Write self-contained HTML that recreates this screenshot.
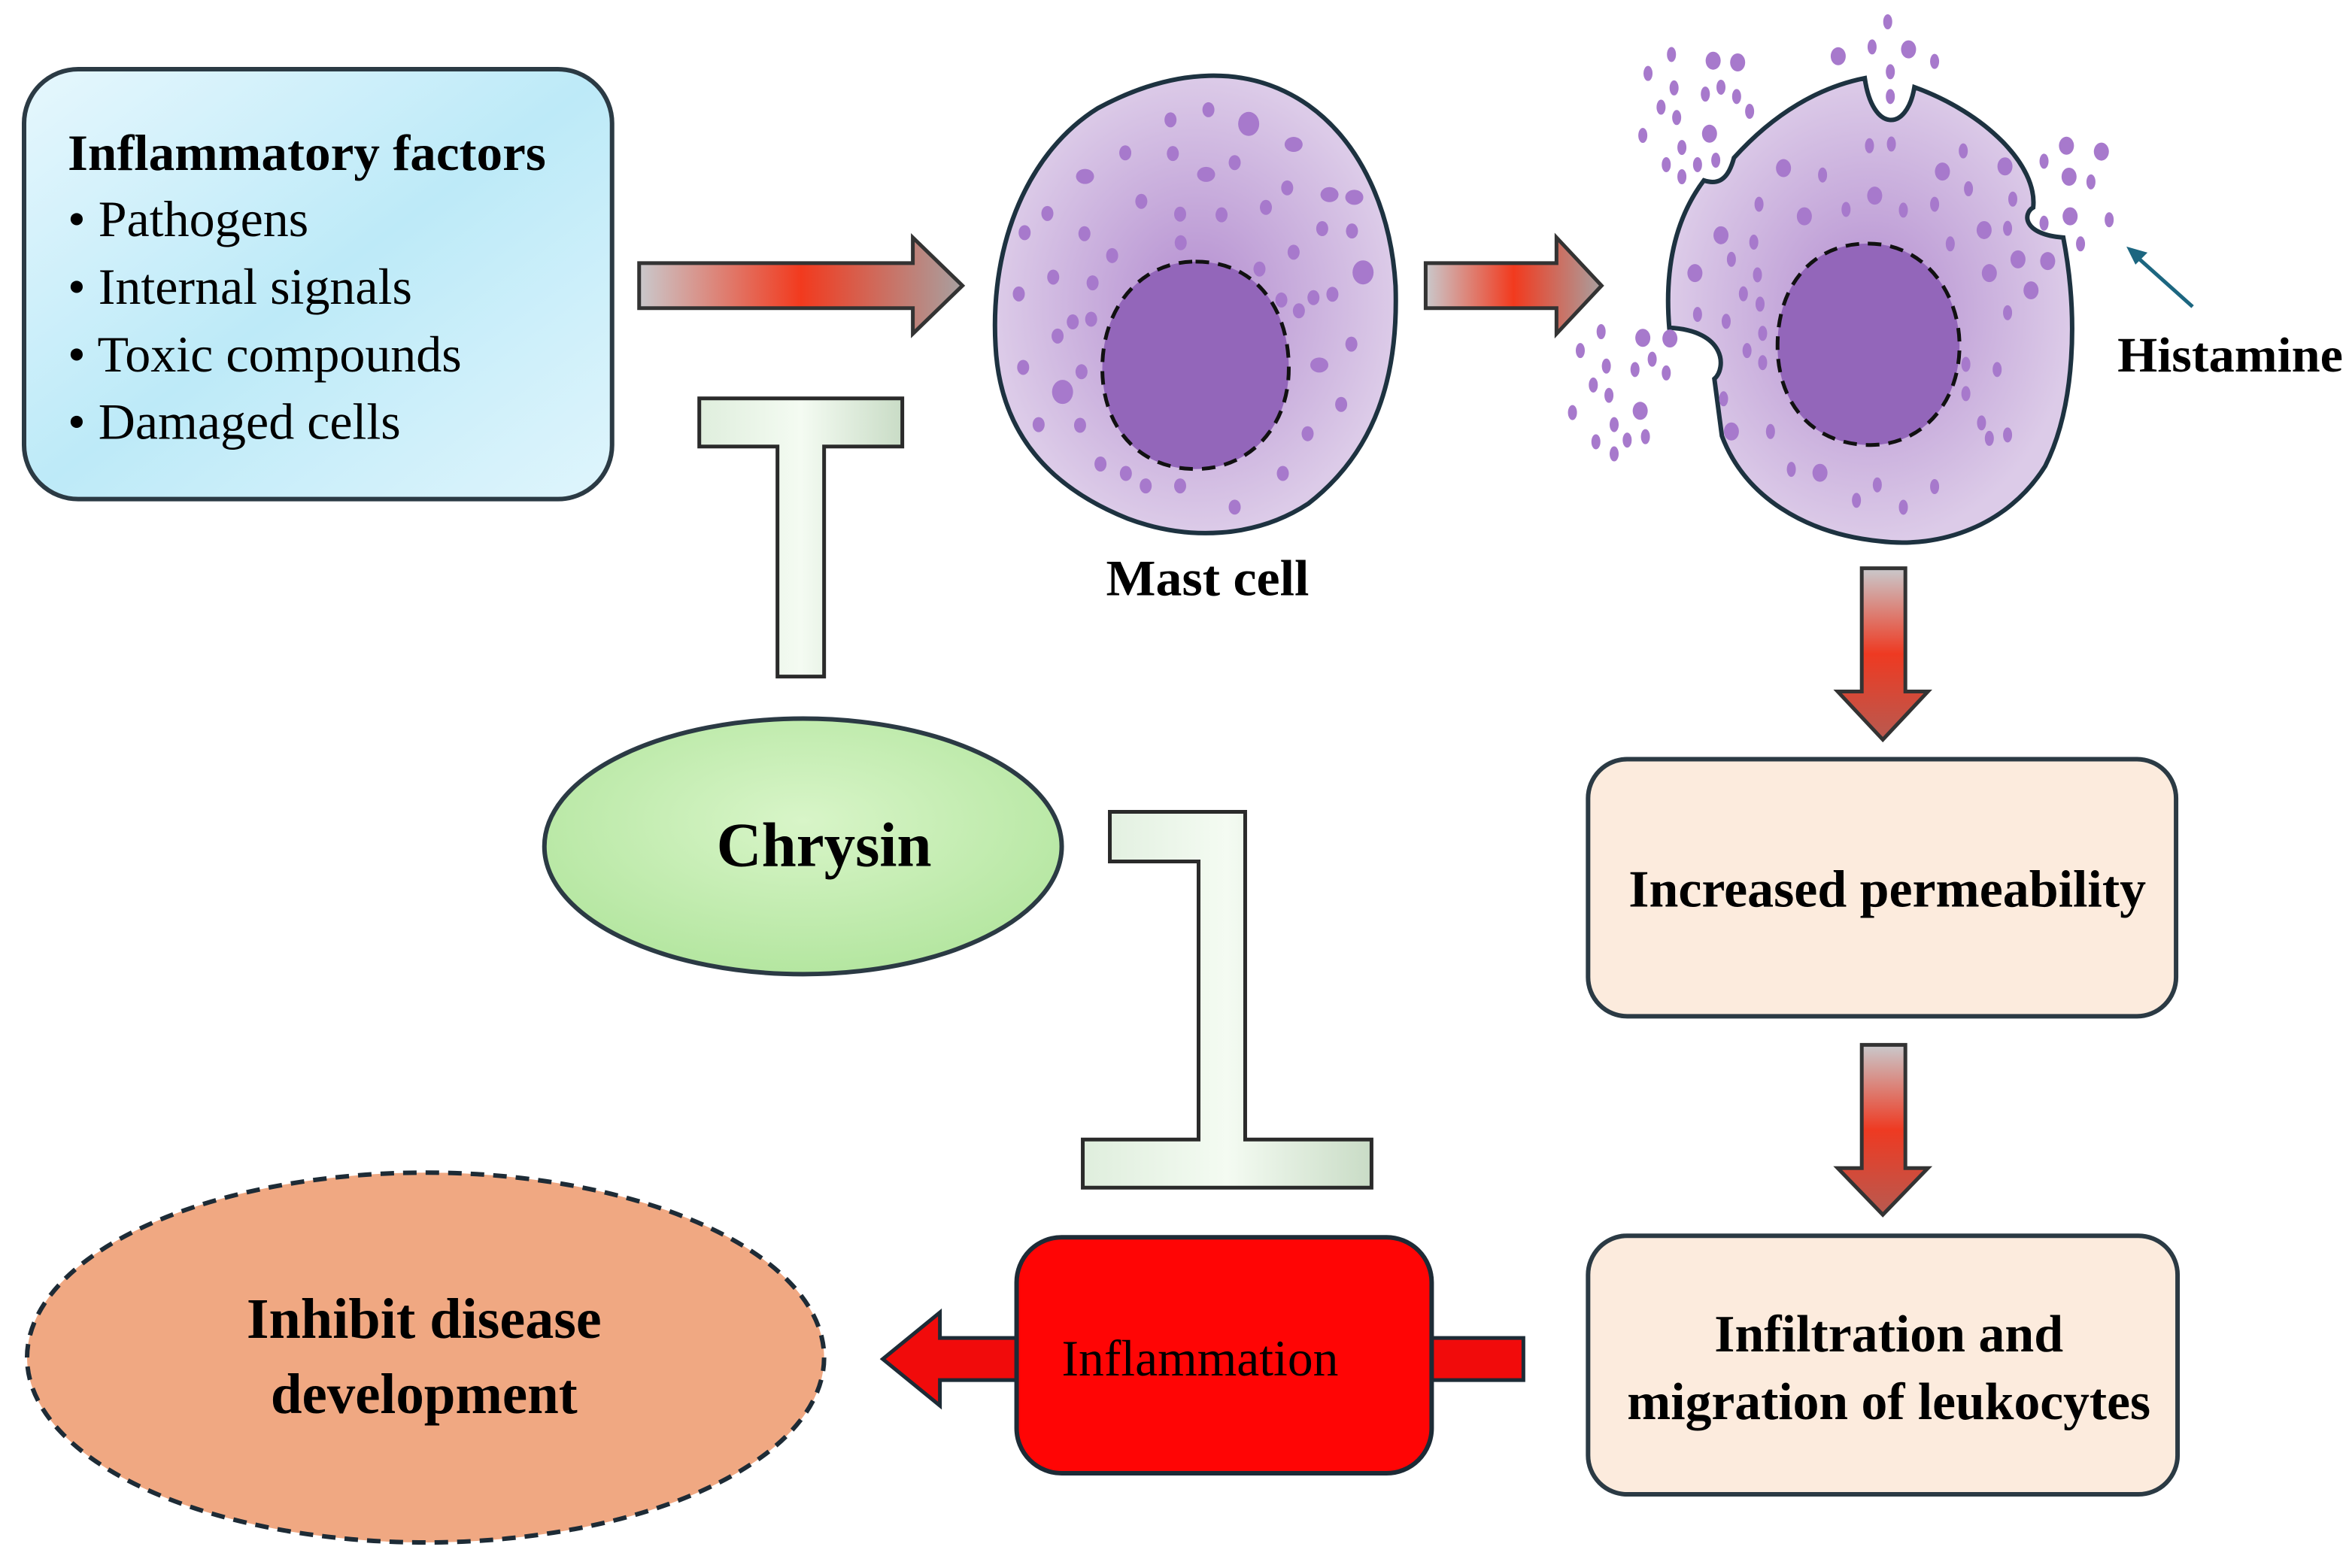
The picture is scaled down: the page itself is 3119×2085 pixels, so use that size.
<!DOCTYPE html>
<html><head><meta charset="utf-8"><style>
html,body{margin:0;padding:0;background:#fff}
svg{display:block}
</style></head><body>
<svg id="s" width="3119" height="2085" viewBox="0 0 1560 1043" preserveAspectRatio="none" xmlns="http://www.w3.org/2000/svg" font-family="Liberation Serif, serif">
<defs>
<linearGradient id="blue" x1="0" y1="0" x2="1" y2="1"><stop offset="0" stop-color="#e6f7fd"/><stop offset="0.5" stop-color="#bdeaf8"/><stop offset="1" stop-color="#dff5fc"/></linearGradient>
<linearGradient id="harr" x1="0" y1="0" x2="1" y2="0"><stop offset="0" stop-color="#c9c9cc"/><stop offset="0.5" stop-color="#f23a1e"/><stop offset="1" stop-color="#a8a0a0"/></linearGradient>
<linearGradient id="varr" x1="0" y1="0" x2="0" y2="1"><stop offset="0" stop-color="#c9c9cc"/><stop offset="0.5" stop-color="#ee3a22"/><stop offset="1" stop-color="#b85a50"/></linearGradient>
<radialGradient id="cell" cx="0.5" cy="0.5" r="0.5"><stop offset="0" stop-color="#b48ed0"/><stop offset="1" stop-color="#dccbe8"/></radialGradient>
<linearGradient id="grn" x1="0" y1="0" x2="1" y2="0"><stop offset="0" stop-color="#dfeedd"/><stop offset="0.5" stop-color="#f4fbf2"/><stop offset="1" stop-color="#c9dcc6"/></linearGradient>
<radialGradient id="chry" cx="0.5" cy="0.4" r="0.6"><stop offset="0" stop-color="#d8f5c8"/><stop offset="1" stop-color="#b4e6a0"/></radialGradient>
</defs>

<rect x="16" y="46" width="391" height="286" rx="36" fill="url(#blue)" stroke="#2b3a44" stroke-width="3"/>
<g font-family="Liberation Serif, serif" font-size="34">
<text x="45" y="113" font-weight="bold" textLength="318" lengthAdjust="spacingAndGlyphs">Inflammatory factors</text>
<text x="45" y="157">• Pathogens</text>
<text x="45" y="202">• Internal signals</text>
<text x="45" y="247">• Toxic compounds</text>
<text x="45" y="292">• Damaged cells</text>
</g>

<path d="M425,175 H607 V158 L640,190 L607,222 V205 H425 Z" fill="url(#harr)" stroke="#333" stroke-width="2.5"/>
<path d="M948,175 H1035 V158 L1065,190 L1035,222 V205 H948 Z" fill="url(#harr)" stroke="#333" stroke-width="2.5"/>

<path d="M730,72 C780,45 830,42 870,70 C905,95 925,140 928,190 C930,250 915,300 870,335 C835,358 790,360 750,345 C700,325 665,290 662,230 C658,160 685,100 730,72 Z" fill="url(#cell)" stroke="#1d3240" stroke-width="3"/>
<g id="d1" fill="#a779cc"></g>
<path d="M795,174 C835,174 857,205 857,245 C857,285 830,312 795,312 C758,312 733,285 733,245 C733,205 758,174 795,174 Z" fill="#9366ba" stroke="#111" stroke-width="2.5" stroke-dasharray="9,6"/>
<text x="803" y="396" font-size="34" font-weight="bold" text-anchor="middle" font-family="Liberation Serif, serif" textLength="135" lengthAdjust="spacingAndGlyphs">Mast cell</text>

<path d="M1273,58 C1320,75 1355,110 1352,138 C1345,142 1345,156 1372,158 C1382,210 1380,270 1360,310 C1335,350 1290,365 1250,360 C1200,355 1160,330 1145,290 L1140,252 C1148,245 1148,220 1110,218 C1106,170 1118,140 1133,120 C1145,124 1150,116 1153,105 C1180,75 1210,58 1240,52 C1245,88 1268,88 1273,58 Z" fill="url(#cell)" stroke="#1d3240" stroke-width="3"/>
<g id="d2" fill="#a779cc"></g>
<path d="M1242,162 C1280,162 1303,195 1303,230 C1303,268 1278,296 1244,296 C1205,296 1182,268 1182,230 C1182,190 1205,162 1242,162 Z" fill="#9366ba" stroke="#111" stroke-width="2.5" stroke-dasharray="9,6"/>
<line x1="1458" y1="204" x2="1420" y2="170" stroke="#1c6680" stroke-width="2.5"/>
<path d="M1414,164 L1428,168 L1420,176 Z" fill="#1c6680"/>
<text x="1408" y="247" font-size="33" font-weight="bold" font-family="Liberation Serif, serif" textLength="150" lengthAdjust="spacingAndGlyphs">Histamine</text>

<path d="M465,265 H600 V297 H548 V450 H517 V297 H465 Z" fill="url(#grn)" stroke="#2a2a2a" stroke-width="2.5"/>

<ellipse cx="534" cy="563" rx="172" ry="85" fill="url(#chry)" stroke="#2b3a44" stroke-width="3"/>
<text x="548" y="576" font-size="42" font-weight="bold" text-anchor="middle" font-family="Liberation Serif, serif" textLength="143" lengthAdjust="spacingAndGlyphs">Chrysin</text>

<path d="M738,540 H828 V758 H912 V790 H720 V758 H797 V573 H738 Z" fill="url(#grn)" stroke="#2a2a2a" stroke-width="2.5"/>

<path d="M1238,378 H1267 V460 H1282 L1252,492 L1222,460 H1238 Z" fill="url(#varr)" stroke="#333" stroke-width="2.5"/>
<path d="M1238,695 H1267 V777 H1282 L1252,808 L1222,777 H1238 Z" fill="url(#varr)" stroke="#333" stroke-width="2.5"/>

<rect x="1056" y="505" width="391" height="171" rx="26" fill="#fcebdd" stroke="#2b3a44" stroke-width="3"/>
<text x="1255" y="603" font-size="35" font-weight="bold" text-anchor="middle" font-family="Liberation Serif, serif" textLength="344" lengthAdjust="spacingAndGlyphs">Increased permeability</text>

<rect x="1056" y="822" width="392" height="172" rx="26" fill="#fcebdd" stroke="#2b3a44" stroke-width="3"/>
<text x="1256" y="899" font-size="35" font-weight="bold" text-anchor="middle" font-family="Liberation Serif, serif" textLength="232" lengthAdjust="spacingAndGlyphs">Infiltration and</text>
<text x="1256" y="944" font-size="35" font-weight="bold" text-anchor="middle" font-family="Liberation Serif, serif" textLength="348" lengthAdjust="spacingAndGlyphs">migration of leukocytes</text>

<path d="M952,890 H1013 V918 H952 Z" fill="#f10b0b" stroke="#1d2b36" stroke-width="2.5"/>
<path d="M680,890 H625 V873 L587,904 L625,935 V918 H680 Z" fill="#f10b0b" stroke="#1d2b36" stroke-width="2.5"/>
<rect x="676" y="823" width="276" height="157" rx="30" fill="#ff0505" stroke="#1d2b36" stroke-width="3"/>
<text x="798" y="915" font-size="34" text-anchor="middle" font-family="Liberation Serif, serif" textLength="184" lengthAdjust="spacingAndGlyphs">Inflammation</text>

<ellipse cx="283" cy="903" rx="265" ry="123" fill="#f0a882" stroke="#1d2b36" stroke-width="3" stroke-dasharray="9,6"/>
<text x="282" y="890" font-size="38" font-weight="bold" text-anchor="middle" font-family="Liberation Serif, serif" textLength="236" lengthAdjust="spacingAndGlyphs">Inhibit disease</text>
<text x="282" y="940" font-size="38" font-weight="bold" text-anchor="middle" font-family="Liberation Serif, serif" textLength="204" lengthAdjust="spacingAndGlyphs">development</text>
</svg>
<script>
(function(){
var NS="http://www.w3.org/2000/svg";
function add(g,x,y,rx,ry){var e=document.createElementNS(NS,"ellipse");e.setAttribute("cx",x);e.setAttribute("cy",y);e.setAttribute("rx",rx);e.setAttribute("ry",ry);g.appendChild(e);}
var g1=document.getElementById("d1");
var z1=[[780,180],[650,210],[918,222,2],[1072,283,1],[495,308],[658,310],[870,337],[357,378,1],[772,372,1],[1050,412],[1195,432,1],[1280,440,1],[550,452],[228,488],[683,490],[825,492],[977,470],[150,545],[355,548],[1170,533],[1272,540],[685,575],[450,613],[1072,603],[1310,663,2],[955,653],[248,677],[383,694],[130,727],[1030,745],[1140,738],[1205,728],[1090,777],[315,810],[378,802],[263,852],[1270,876],[145,945],[345,958],[1160,938,1],[280,1018,2],[1235,1055],[198,1115],[340,1117],[1120,1142],[410,1232],[497,1260],[565,1297],[683,1297],[1035,1260],[870,1360]];
z1.forEach(function(p){var x=660+(p[0]-40)*0.194,y=45+(p[1]-55)*0.224;var b=p[2]||0;add(g1,x,y,b==2?7:(b==1?6:4),b==2?8:(b==1?5:5));});
var g2=document.getElementById("d2");
var z2=[[615,405],[657,400],[795,420],[450,470,1],[525,490],[755,480,1],[875,465,1],[805,530],[625,550,1],[570,590],[680,592],[740,575],[890,560],[403,575],[490,610,1],[330,665,1],[393,685],[835,650,1],[880,645],[770,690],[350,735],[900,735,1],[957,740,1],[280,775,1],[400,780],[845,775,1],[373,835],[405,865],[925,825,1],[285,895],[340,915],[880,890],[410,950],[380,1000],[410,1035],[860,1055],[800,1040],[335,1140],[800,1125],[350,1235,1],[425,1235],[830,1210],[845,1255],[880,1245],[465,1345],[520,1355,1],[630,1390],[740,1395],[590,1435],[680,1455],
[650,45],[620,118],[555,145,1],[690,125,1],[740,160],[655,190],[655,262],[235,140],[315,158,1],[362,163,1],[190,195],[240,237],[300,255],[330,235],[360,262],[385,305],[215,293],[245,323],[308,370,1],[180,375],[255,410],[225,460],[320,447],[285,460],[255,495],[993,405,1],[1060,422,1],[950,450],[998,495,1],[1040,510],[1000,610,1],[950,630],[1075,620],[1020,690],[100,945],[180,963,1],[232,965,1],[60,1000],[110,1045],[165,1055],[198,1025],[225,1065],[85,1100],[115,1130],[175,1175,1],[45,1180],[125,1215],[90,1265],[150,1260],[185,1250],[125,1300]];
z2.forEach(function(p){var x=1108+(p[0]-225)*0.3465,y=50+(p[1]-200)*0.229;var b=p[2]||0;add(g2,x,y,b?5:3,b?6:5);});
})();
</script>
</body></html>
